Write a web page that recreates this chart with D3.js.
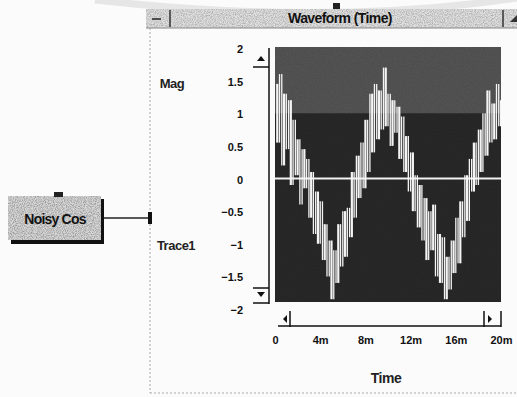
<!DOCTYPE html>
<html><head><meta charset="utf-8">
<script src="https://cdn.jsdelivr.net/npm/d3@7"></script>
<style>body{margin:0;background:#fbfbfb;}svg{display:block;font-family:"Liberation Sans",Arial,sans-serif;}</style>
</head><body><svg id="c" width="517" height="397"></svg>
<script>
const title = "Waveform (Time)";
const blockLabel = "Noisy Cos";
const yLabel = "Mag";
const traceLabel = "Trace1";
const xLabel = "Time";
const yTicks = [2, 1.5, 1, 0.5, 0, -0.5, -1, -1.5, -2];
const xTicks = [0, 4, 8, 12, 16, 20];
const xTickLabels = ["0", "4m", "8m", "12m", "16m", "20m"];
const sampleStep = 0.2; // ms
const trace1 = [1.45,0.55,1.6,0.2,1.3,0.45,1.2,-0.1,0.9,0.05,
0.6,-0.4,0.45,-0.15,0.3,-0.6,0.1,-0.85,-0.2,-1.0,
-0.35,-1.25,-0.7,-1.5,-0.95,-1.85,-1.1,-1.6,-0.7,-1.35,
-0.5,-1.2,-0.45,-0.9,0.1,-0.6,0.35,-0.3,0.55,-0.15,
0.9,0.1,1.3,0.4,1.45,0.6,1.35,0.75,1.7,0.8,
1.3,0.5,1.2,0.7,1.1,0.3,0.95,0.1,0.65,-0.2,
0.4,-0.5,0.05,-0.75,-0.1,-0.95,-0.3,-1.25,-0.5,-1.1,
-0.4,-1.5,-0.85,-1.6,-0.9,-1.85,-1.2,-1.7,-0.95,-1.45,
-0.6,-1.3,-0.35,-0.9,0.05,-0.65,0.3,-0.2,0.55,-0.1,
0.75,0.1,1.0,0.35,1.35,0.55,1.15,0.6,1.45,0.8,1.2];

const svg = d3.select("#c");
const defs = svg.append("defs");
const f = defs.append("filter").attr("id","grain").attr("x",0).attr("y",0).attr("width",1).attr("height",1);
f.append("feTurbulence").attr("type","fractalNoise").attr("baseFrequency",0.9).attr("numOctaves",2).attr("seed",3).attr("result","n");
f.append("feColorMatrix").attr("in","n").attr("type","matrix")
 .attr("values","0 0 0 0 0  0 0 0 0 0  0 0 0 0 0  0 0 0 -1.6 1.05").attr("result","a");
f.append("feComposite").attr("in","a").attr("in2","SourceGraphic").attr("operator","in");

// faint scanner arc
svg.append("path").attr("d","M95,0 Q330,26 517,-2").attr("fill","none").attr("stroke","#e6e6e6").attr("stroke-width",7);
svg.append("rect").attr("x",333).attr("y",3).attr("width",7).attr("height",6).attr("fill","#222");

// window frame dashed lines
svg.append("line").attr("x1",150).attr("x2",150).attr("y1",28).attr("y2",393).attr("stroke","#aaa").attr("stroke-dasharray","2,2");
svg.append("line").attr("x1",150).attr("x2",517).attr("y1",393).attr("y2",393).attr("stroke","#aaa").attr("stroke-dasharray","2,2");

// title bar
svg.append("rect").attr("x",146).attr("y",9).attr("width",371).attr("height",19).attr("fill","#e0e0e0");
svg.append("rect").attr("x",146).attr("y",9).attr("width",371).attr("height",19).attr("fill","#555").attr("filter","url(#grain)").attr("opacity",0.3);
svg.append("line").attr("x1",146).attr("x2",517).attr("y1",28).attr("y2",28).attr("stroke","#888");
svg.append("line").attr("x1",170).attr("x2",170).attr("y1",10).attr("y2",27).attr("stroke","#333").attr("stroke-width",1.5);
svg.append("line").attr("x1",152).attr("x2",161).attr("y1",19).attr("y2",19).attr("stroke","#222").attr("stroke-width",1.5);
svg.append("line").attr("x1",503).attr("x2",503).attr("y1",10).attr("y2",27).attr("stroke","#333").attr("stroke-width",1.5);
svg.append("path").attr("d","M510,22 L517,15 L517,22 Z").attr("fill","#333");
svg.append("text").attr("x",340).attr("y",23).attr("text-anchor","middle").attr("font-size",14).attr("font-weight","bold").attr("fill","#111").attr("letter-spacing",-0.6).text(title);

// Noisy Cos block
svg.append("rect").attr("x",11).attr("y",199).attr("width",93).attr("height",45).attr("fill","#111");
svg.append("rect").attr("x",8).attr("y",196).attr("width",93).attr("height",44).attr("fill","#d8d8d8");
svg.append("rect").attr("x",8).attr("y",196).attr("width",93).attr("height",44).attr("fill","#444").attr("filter","url(#grain)").attr("opacity",0.4);
svg.append("rect").attr("x",54).attr("y",192).attr("width",9).attr("height",5).attr("fill","#222");
svg.append("text").attr("x",55).attr("y",224).attr("text-anchor","middle").attr("font-size",14).attr("font-weight","bold").attr("fill","#111").attr("letter-spacing",-0.8).text(blockLabel);
svg.append("line").attr("x1",104).attr("x2",150).attr("y1",218).attr("y2",218).attr("stroke","#222").attr("stroke-width",1.5);
svg.append("rect").attr("x",148).attr("y",212).attr("width",4).attr("height",12).attr("fill","#111");

// plot scales
const px0 = 275, px1 = 501, pyTop = 47, pyBot = 302;
const x = d3.scaleLinear().domain([0,20]).range([px0,px1]);
const y = d3.scaleLinear().domain([2,-2]).range([48,309]);

svg.append("rect").attr("x",px0).attr("y",pyTop).attr("width",px1-px0).attr("height",pyBot-pyTop).attr("fill","#282828");
svg.append("rect").attr("x",px0).attr("y",pyTop).attr("width",px1-px0).attr("height",y(1)-pyTop).attr("fill","#535353");
svg.append("rect").attr("x",px0).attr("y",pyTop).attr("width",px1-px0).attr("height",pyBot-pyTop).attr("fill","#999").attr("filter","url(#grain)").attr("opacity",0.12);

const clip = defs.append("clipPath").attr("id","pc");
clip.append("rect").attr("x",px0).attr("y",pyTop).attr("width",px1-px0).attr("height",pyBot-pyTop);
const g = svg.append("g").attr("clip-path","url(#pc)");
g.append("line").attr("x1",px0).attr("x2",px1).attr("y1",y(0)).attr("y2",y(0)).attr("stroke","#f2f2f2").attr("stroke-width",2);
// each sample drawn as a vertical stroke from the previous sample's value
g.selectAll("line.s").data(trace1.slice(1)).join("line").attr("class","s")
 .attr("x1",(d,i)=>x((i+1)*sampleStep)).attr("x2",(d,i)=>x((i+1)*sampleStep))
 .attr("y1",(d,i)=>y(trace1[i])).attr("y2",d=>y(d))
 .attr("stroke","#f4f4f4").attr("stroke-width",(d,i)=> i%3===0?2.2:1.3);

// y axis labels
const yAxis = d3.axisLeft(y).tickValues(yTicks).tickSize(0).tickPadding(0).tickFormat(d3.format(""));
const ya = svg.append("g").attr("transform","translate(243,1)").call(yAxis);
ya.select(".domain").remove();
ya.selectAll("text").attr("font-size",11).attr("font-weight","bold").attr("fill","#111").attr("font-family","Liberation Sans, Arial, sans-serif");

svg.append("text").attr("x",172).attr("y",88).attr("text-anchor","middle").attr("font-size",13).attr("font-weight","bold").attr("fill","#222").attr("letter-spacing",-0.5).text(yLabel);
svg.append("text").attr("x",176).attr("y",250).attr("text-anchor","middle").attr("font-size",13).attr("font-weight","bold").attr("fill","#222").attr("letter-spacing",-0.5).text(traceLabel);

// vertical scrollbar
const k = "#111";
svg.append("line").attr("x1",269).attr("x2",269).attr("y1",48).attr("y2",304).attr("stroke",k).attr("stroke-width",1.5);
svg.append("path").attr("d","M257,61 L261,56 L265,61 Z").attr("fill",k);
svg.append("line").attr("x1",253).attr("x2",269).attr("y1",67).attr("y2",67).attr("stroke",k).attr("stroke-width",1.5);
svg.append("line").attr("x1",253).attr("x2",269).attr("y1",288).attr("y2",288).attr("stroke",k).attr("stroke-width",1.5);
svg.append("path").attr("d","M257,292 L261,297 L265,292 Z").attr("fill",k);
svg.append("line").attr("x1",253).attr("x2",269).attr("y1",303).attr("y2",303).attr("stroke",k).attr("stroke-width",1.5);

// horizontal scrollbar
svg.append("line").attr("x1",278).attr("x2",501).attr("y1",326).attr("y2",326).attr("stroke",k).attr("stroke-width",1.5);
svg.append("line").attr("x1",290).attr("x2",290).attr("y1",311).attr("y2",327).attr("stroke",k).attr("stroke-width",1.5);
svg.append("path").attr("d","M287,315 L283,319 L287,323 Z").attr("fill",k);
svg.append("line").attr("x1",484).attr("x2",484).attr("y1",311).attr("y2",327).attr("stroke",k).attr("stroke-width",1.5);
svg.append("path").attr("d","M488,315 L492,319 L488,323 Z").attr("fill",k);
svg.append("line").attr("x1",501).attr("x2",501).attr("y1",311).attr("y2",327).attr("stroke",k).attr("stroke-width",1.5);

// x axis labels
const xAxis = d3.axisBottom(x).tickValues(xTicks).tickSize(0).tickPadding(0).tickFormat((d,i)=>xTickLabels[i]);
const xa = svg.append("g").attr("transform","translate(0,336)").call(xAxis);
xa.select(".domain").remove();
xa.selectAll("text").attr("font-size",11).attr("font-weight","bold").attr("fill","#111").attr("font-family","Liberation Sans, Arial, sans-serif");

svg.append("text").attr("x",386).attr("y",383).attr("text-anchor","middle").attr("font-size",14).attr("font-weight","bold").attr("fill","#222").attr("letter-spacing",-0.5).text(xLabel);
</script></body></html>
